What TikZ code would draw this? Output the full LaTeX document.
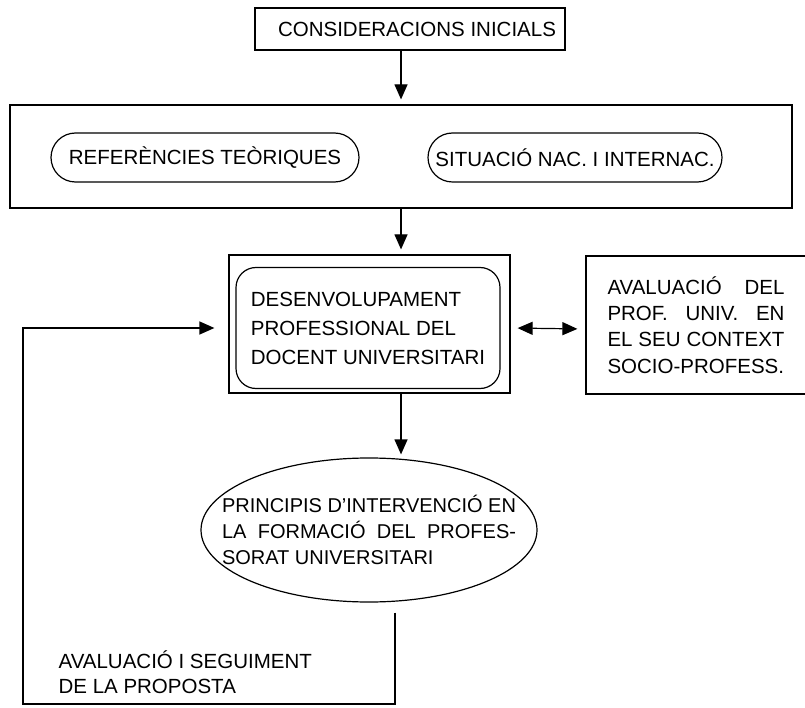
\documentclass[tikz,border=0pt]{standalone}
\usepackage{fontspec}
\setmainfont{Liberation Sans}
\usetikzlibrary{arrows.meta,shapes.geometric}
\newcommand\stretchline[2]{\makebox[#1][s]{#2}}
\begin{document}
\begin{tikzpicture}[x=1pt, y=-1pt, line width=1.2pt,
    font=\fontsize{20.5}{26}\selectfont,
    >={Triangle[width=13pt,length=15pt]},
    box/.style={draw, inner sep=0pt, align=center},
    pill/.style={box, rounded corners=24.5pt, minimum height=49pt},
    flow/.style={->, shorten >=5pt}]
  \fill[white] (0,0) rectangle (805,708);
  \useasboundingbox (0,0) rectangle (805,708);
  \coordinate (col) at (401,0);
  % upper part
  \node[box, minimum width=310pt, minimum height=42pt] (init) at (410,29) {\hspace*{14pt}CONSIDERACIONS INICIALS};
  \node[box, minimum width=782pt, minimum height=103pt] (marc) at (401,156.5) {};
  \node[pill, minimum width=308pt] (refs) at (205,157.5) {REFERÈNCIES TEÒRIQUES};
  \node[pill, minimum width=294pt] (situ) at (575,157.5) {SITUACIÓ NAC. I INTERNAC.};
  % centre and right
  \node[box, minimum width=281pt, minimum height=138pt] (desenbox) at (369.5,324) {};
  \node[draw, rounded corners=20pt, minimum width=264pt, minimum height=121pt, align=left,
        font=\fontsize{20.5}{29}\selectfont] (desen) at (368,328) {DESENVOLUPAMENT\\PROFESSIONAL DEL\\DOCENT UNIVERSITARI};
  \node[box, minimum width=220pt, minimum height=138pt, align=left,
        font=\fontsize{20.5}{26.3}\selectfont] (aval) at (696,325)
        {\stretchline{177pt}{AVALUACIÓ DEL}\\\stretchline{177pt}{PROF. UNIV. EN}\\\stretchline{177pt}{EL SEU CONTEXT}\\\stretchline{177pt}{SOCIO-PROFESS.}};
  % lower part
  \node[draw, ellipse, inner sep=0pt, minimum width=336pt, minimum height=144pt] (princ) at (369,530) {};
  \node[align=left, inner sep=0pt, font=\fontsize{20}{26}\selectfont] (princtxt) at (princ.center)
        {\stretchline{294pt}{PRINCIPIS D'INTERVENCIÓ EN}\\\stretchline{294pt}{LA FORMACIÓ DEL PROFES-}\\SORAT UNIVERSITARI};
  \node[anchor=west, align=left, inner sep=0pt, font=\fontsize{20.5}{25}\selectfont] (seg) at (58,672)
        {AVALUACIÓ I SEGUIMENT\\DE LA PROPOSTA};
  \coordinate (fbbot) at (395,704);
  \coordinate (fbleft) at (23,704);
  % connectors
  \draw[flow] (init.south -| col) -- (marc.north -| col);
  \draw[flow] (marc.south -| col) -- (desenbox.north -| col);
  \draw[flow, shorten >=3pt] (desenbox.south -| col) -- (princ.north -| col);
  \draw[<->, shorten <=7pt, shorten >=8pt] ([yshift=-4pt]desenbox.east) -- ([yshift=-4pt]aval.west);
  \draw[flow, shorten <=10pt, shorten >=14pt] (princ.south -| fbbot) -- (fbbot) -- (fbleft) |- ([yshift=-4pt]desenbox.west);
\end{tikzpicture}
\end{document}
